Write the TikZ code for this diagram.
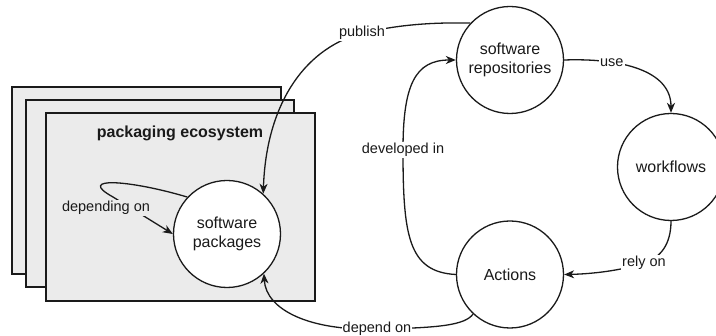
\documentclass[tikz,border=0pt]{standalone}
\usepackage{fontspec}
\setmainfont{Liberation Sans}
\usetikzlibrary{arrows.meta}
\definecolor{ecofill}{HTML}{EBEBEB}
\definecolor{inkc}{HTML}{1A1A1A}
\begin{document}
\begin{tikzpicture}[x=1pt,y=-1pt,
  eco/.style={draw=inkc, fill=ecofill, line width=1.3pt},
  proc/.style={circle, draw=inkc, fill=white, line width=1.3pt, minimum size=107pt, inner sep=0pt, align=center, font=\fontsize{16}{19}\selectfont, text=inkc},
  conn/.style={draw=inkc, line width=1.3pt, -{Stealth[length=10pt,width=8pt,inset=3pt]}},
  lbl/.style={fill=white, inner sep=1pt, font=\fontsize{14.5}{17}\selectfont, text=inkc},
  lblgray/.style={lbl, fill=ecofill},
]
\useasboundingbox (0,0) rectangle (716,336);
\clip (0,0) rectangle (716,336);

% stacked ecosystem sheets
\draw[eco] (12,87) rectangle (281,274);
\draw[eco] (26,100) rectangle (294,287);
\draw[eco] (46,113) rectangle (315,301);
\node[font=\bfseries\fontsize{16}{19}\selectfont, text=inkc] (title) at (180,133) {packaging ecosystem};

% nodes
\node[proc] (sp)  at (227,234)   {software\\packages};
\node[proc] (sr)  at (510,60)    {software\\repositories};
\node[proc] (wf)  at (671,167)   {workflows};
\node[proc] (act) at (510,274.5) {Actions};

% self loop
\draw[conn] (sp.137) .. controls (130,180) and (75,176) .. (113,197) -- (sp.west);
\node[lblgray] (ldep) at (106,208) {depending on};

% publish
\draw[conn] (sr.137) .. controls (420,22) and (390,27) .. (362,33)
  node[lbl] (lpub) {publish}
  .. controls (300,50) and (266,110) .. (sp.48);

% use
\draw[conn] (sr.east) .. controls (620,58) and (671,70) .. (wf.north)
  node[lbl, pos=0.3] (luse) {use};

% rely on
\draw[conn] (wf.south) .. controls (671,245) and (660,258) .. (644,263)
  node[lbl] (lrely) {rely on}
  .. controls (620,271) and (590,274) .. (act.east);

% developed in
\draw[conn] (act.west) .. controls (408,272) and (403,235) .. (403,150)
  node[lbl] (ldev) {developed in}
  .. controls (403,85) and (415,60) .. (sr.west);

% depend on
\draw[conn] (act.227) .. controls (465,325) and (440,328) .. (377,329)
  node[lbl] (ldepon) {depend on}
  .. controls (310,331) and (266,310) .. (sp.313);
\end{tikzpicture}
\end{document}
